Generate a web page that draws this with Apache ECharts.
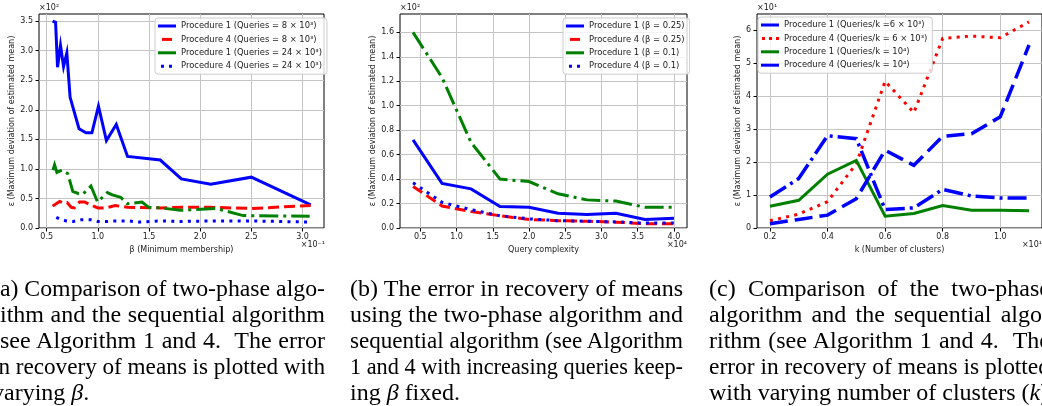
<!DOCTYPE html>
<html>
<head>
<meta charset="utf-8">
<script src="https://cdn.jsdelivr.net/npm/echarts@6/dist/echarts.min.js"></script>
<style>
html, body { margin: 0; padding: 0; background: #fff; }
#wrap { position: relative; width: 1042px; height: 406px; overflow: hidden; }
#chart { position: absolute; left: 0; top: 0; width: 1042px; height: 406px; }
.cap { position: absolute; top: 275px; width: 333px; font-family: "Liberation Serif", "Times New Roman", serif; font-size: 24px; line-height: 26px; color: #000; }
.cap div { height: 26px; text-align: justify; text-align-last: justify; }
.cap div.last { text-align: left; text-align-last: left; }
</style>
</head>
<body>
<div id="wrap">
  <div id="chart"></div>
  <div class="cap" style="left:-8px">
    <div><span>(a) Comparison of two-phase algo-</span></div>
    <div><span>rithm and the sequential algorithm</span></div>
    <div><span>(see Algorithm 1 and 4.&nbsp; The error</span></div>
    <div><span>in recovery of means is plotted with</span></div>
    <div class="last"><span>varying <i>β</i>.</span></div>
  </div>
  <div class="cap" style="left:350px">
    <div><span>(b) The error in recovery of means</span></div>
    <div><span>using the two-phase algorithm and</span></div>
    <div><span>sequential algorithm (see Algorithm</span></div>
    <div><span>1 and 4 with increasing queries keep-</span></div>
    <div class="last"><span>ing <i>β</i> fixed.</span></div>
  </div>
  <div class="cap" style="left:709px; width:341px">
    <div><span>(c) Comparison of the two-phase</span></div>
    <div><span>algorithm and the sequential algo-</span></div>
    <div><span>rithm (see Algorithm 1 and 4.&nbsp; The</span></div>
    <div><span>error in recovery of means is plotted</span></div>
    <div class="last"><span>with varying number of clusters (<i>k</i>).</span></div>
  </div>
</div>
<script>
// (a) error vs beta (x10^-1), values x10^2
const betaP1Q8 = [0.558, 0.587, 0.606, 0.635, 0.665, 0.697, 0.729, 0.816, 0.884, 0.942, 1.006, 1.084, 1.18, 1.29, 1.61, 1.816, 2.103, 2.5, 3.08]
const errP1Q8 = [3.50, 3.48, 2.72, 3.09, 2.73, 2.96, 2.21, 1.68, 1.61, 1.61, 2.06, 1.48, 1.75, 1.21, 1.15, 0.83, 0.74, 0.86, 0.39]
const betaP4Q8 = [0.558, 0.626, 0.665, 0.70, 0.74, 0.77, 0.82, 0.87, 0.92, 1.0, 1.08, 1.17, 1.29, 1.61, 1.82, 2.1, 2.5, 3.08]
const errP4Q8 = [0.37, 0.45, 0.42, 0.43, 0.35, 0.34, 0.44, 0.44, 0.40, 0.34, 0.34, 0.38, 0.35, 0.34, 0.35, 0.35, 0.33, 0.38]
const betaP1Q24 = [0.561, 0.577, 0.60, 0.652, 0.706, 0.755, 0.813, 0.852, 0.933, 0.997, 1.093, 1.142, 1.223, 1.287, 1.432, 1.497, 1.61, 1.807, 2.16, 2.42, 3.07]
const errP1Q24 = [0.98, 1.07, 0.94, 0.98, 0.92, 0.62, 0.58, 0.57, 0.71, 0.44, 0.60, 0.56, 0.52, 0.41, 0.44, 0.35, 0.34, 0.30, 0.33, 0.21, 0.20]
const betaP4Q24 = [0.594, 0.63, 0.69, 0.76, 0.84, 0.93, 1.0, 1.09, 1.18, 1.3, 1.4, 1.6, 1.82, 2.1, 2.5, 3.08]
const errP4Q24 = [0.18, 0.15, 0.12, 0.11, 0.14, 0.14, 0.11, 0.11, 0.12, 0.12, 0.10, 0.12, 0.11, 0.12, 0.12, 0.10]

// (b) error vs query complexity (x10^4), values x10^2
const queries = [0.4, 0.8, 1.2, 1.6, 2.0, 2.4, 2.8, 3.2, 3.6, 4.0]
const errP1B25 = [0.72, 0.365, 0.32, 0.175, 0.17, 0.12, 0.11, 0.12, 0.07, 0.08]
const errP4B25 = [0.34, 0.18, 0.135, 0.10, 0.07, 0.06, 0.055, 0.048, 0.035, 0.035]
const errP1B10 = [1.6, 1.23, 0.70, 0.40, 0.38, 0.28, 0.23, 0.22, 0.17, 0.17]
const errP4B10 = [0.37, 0.21, 0.15, 0.10, 0.075, 0.06, 0.055, 0.05, 0.04, 0.04]

// (c) error vs number of clusters (x10^1), values x10^1
const clusters = [0.2, 0.3, 0.4, 0.5, 0.6, 0.7, 0.8, 0.9, 1.0, 1.1]
const errP1K6 = [0.94, 1.5, 2.8, 2.71, 0.56, 0.61, 1.17, 0.97, 0.91, 0.91]
const errP4K6 = [0.22, 0.42, 0.8, 1.95, 4.45, 3.5, 5.75, 5.82, 5.77, 6.25]
const errP1K10 = [0.66, 0.84, 1.63, 2.05, 0.36, 0.44, 0.68, 0.54, 0.54, 0.52]
const errP4K10 = [0.13, 0.26, 0.39, 0.89, 2.36, 1.9, 2.78, 2.86, 3.37, 5.55]

const ticksA_x = [0.5, 1.0, 1.5, 2.0, 2.5, 3.0]
const ticksA_y = [0, 0.5, 1.0, 1.5, 2.0, 2.5, 3.0, 3.5]
const ticksB_x = [0.5, 1.0, 1.5, 2.0, 2.5, 3.0, 3.5, 4.0]
const ticksB_y = [0, 0.2, 0.4, 0.6, 0.8, 1.0, 1.2, 1.4, 1.6]
const ticksC_x = [0.2, 0.4, 0.6, 0.8, 1.0]
const ticksC_y = [0, 1, 2, 3, 4, 5, 6]

const FONT = 'DejaVu Sans'
const TXT = '#1a1a1a'
const BLUE = '#0000ff', RED = '#ff0000', GREEN = '#008000'

const ICON_FULL = 'path://M0,0h18v3h-18z'
const ICON_DASH = 'path://M0,0M18,3M4,0h10v3h-10z'
const ICON_DOT2 = 'path://M0,0M18,3M3,0h3v3h-3zM11,0h3v3h-3z'
const ICON_DOT3 = 'path://M0,0M18,3M1,0h3v3h-3zM8,0h3v3h-3zM15,0h3v3h-3z'

// caption lines: justify, or squeeze the ones that are too long
document.querySelectorAll('.cap div').forEach(d => {
    const span = d.firstElementChild
    d.style.whiteSpace = 'nowrap'
    const w = span.getBoundingClientRect().width
    const W = d.clientWidth
    if (w > W && !d.classList.contains('last')) {
        span.style.display = 'inline-block'
        span.style.transformOrigin = '0 0'
        span.style.transform = 'scaleX(' + (W / w) + ')'
        d.style.textAlign = 'left'
        d.style.textAlignLast = 'left'
    } else if (!d.classList.contains('last')) {
        d.style.whiteSpace = 'normal'
    }
})

function pairs(xs, ys) {
    return xs.map((x, i) => [x, ys[i]])
}

function line(name, xs, ys, color, dash, width, idx) {
    return {
        name: name, type: 'line', xAxisIndex: idx, yAxisIndex: idx,
        data: pairs(xs, ys), symbol: 'none', silent: true,
        lineStyle: { color: color, width: width, type: dash, cap: 'butt', join: 'miter' },
        itemStyle: { color: color },
        emphasis: { disabled: true }
    }
}

function xAxis(idx, min, max, ticks, name) {
    return {
        type: 'value', gridIndex: idx, min: min, max: max,
        name: name, nameLocation: 'middle', nameGap: 13,
        nameTextStyle: { fontSize: 8, fontFamily: FONT, color: TXT },
        axisLine: { show: false },
        axisTick: { show: true, length: 3.5, customValues: ticks, lineStyle: { color: '#000' } },
        axisLabel: { customValues: ticks, fontSize: 8, fontFamily: FONT, color: TXT, margin: 5,
            formatter: v => v.toFixed(1) },
        splitLine: { show: true, lineStyle: { color: '#c4c4c4', width: 1 } }
    }
}

function yAxis(idx, max, ticks, gap, fmt) {
    return {
        type: 'value', gridIndex: idx, min: 0, max: max,
        name: 'ε (Maximum deviation of estimated mean)', nameLocation: 'middle', nameGap: gap,
        nameTextStyle: { fontSize: 8, fontFamily: FONT, color: TXT },
        axisLine: { show: false },
        axisTick: { show: true, length: 3.5, customValues: ticks, lineStyle: { color: '#000' } },
        axisLabel: { customValues: ticks, fontSize: 8, fontFamily: FONT, color: TXT, margin: 6,
            formatter: fmt },
        splitLine: { show: true, lineStyle: { color: '#c4c4c4', width: 1 } }
    }
}

function legend(left, top, items) {
    return {
        left: left, top: top, orient: 'vertical', selectedMode: false,
        data: items.map(it => ({ name: it[0], icon: it[1] })),
        itemWidth: 18, itemHeight: 3, itemGap: 3.4,
        textStyle: { fontSize: 8.4, fontFamily: FONT, color: TXT, lineHeight: 10 },
        backgroundColor: 'rgba(255,255,255,0.8)', borderColor: '#cccccc', borderWidth: 1, borderRadius: 3,
        padding: [3, 5, 3, 3]
    }
}

function label(text, x, y, align) {
    return { type: 'text', x: x, y: y, silent: true,
        style: { text: text, fontSize: 8, fontFamily: FONT, fill: TXT, align: align, verticalAlign: 'middle' } }
}

const names = {
    a1: 'Procedure 1 (Queries = 8 × 10³)', a2: 'Procedure 4 (Queries = 8 × 10³)',
    a3: 'Procedure 1 (Queries = 24 × 10³)', a4: 'Procedure 4 (Queries = 24 × 10³)',
    b1: 'Procedure 1 (β = 0.25)', b2: 'Procedure 4 (β = 0.25)',
    b3: 'Procedure 1 (β = 0.1)', b4: 'Procedure 4 (β = 0.1)',
    c1: 'Procedure 1 (Queries/k =6 × 10³)', c2: 'Procedure 4 (Queries/k = 6 × 10³)',
    c3: 'Procedure 1 (Queries/k = 10⁴)', c4: 'Procedure 4 (Queries/k = 10⁴)'
}

const DASH = [11, 5], DASHDOT = [19, 5, 3, 5], DOT = [3, 5.3], LONGDASH = [18, 7]

const chart = echarts.init(document.getElementById('chart'))
chart.setOption({
    animation: false,
    backgroundColor: 'transparent',
    grid: [
        { left: 39, top: 14, width: 285, height: 214, show: true, borderColor: '#000', borderWidth: 1, backgroundColor: 'transparent' },
        { left: 400, top: 14, width: 287, height: 214, show: true, borderColor: '#000', borderWidth: 1, backgroundColor: 'transparent' },
        { left: 757, top: 14, width: 285, height: 214, show: true, borderColor: '#000', borderWidth: 1, backgroundColor: 'transparent' }
    ],
    xAxis: [
        xAxis(0, 0.425, 3.21, ticksA_x, 'β (Minimum membership)'),
        xAxis(1, 0.22, 4.18, ticksB_x, 'Query complexity'),
        xAxis(2, 0.155, 1.145, ticksC_x, 'k (Number of clusters)')
    ],
    yAxis: [
        yAxis(0, 3.62, ticksA_y, 19, v => v.toFixed(1)),
        yAxis(1, 1.75, ticksB_y, 15, v => v.toFixed(1)),
        yAxis(2, 6.49, ticksC_y, 8, v => String(v))
    ],
    legend: [
        legend(155, 18, [[names.a1, ICON_FULL], [names.a2, ICON_DASH], [names.a3, ICON_FULL], [names.a4, ICON_DOT2]]),
        legend(563, 18, [[names.b1, ICON_FULL], [names.b2, ICON_DASH], [names.b3, ICON_FULL], [names.b4, ICON_DOT2]]),
        legend(758, 17, [[names.c1, ICON_FULL], [names.c2, ICON_DOT3], [names.c3, ICON_FULL], [names.c4, ICON_FULL]])
    ],
    series: [
        line(names.a1, betaP1Q8, errP1Q8, BLUE, 'solid', 3, 0),
        line(names.a2, betaP4Q8, errP4Q8, RED, DASH, 3, 0),
        line(names.a3, betaP1Q24, errP1Q24, GREEN, DASHDOT, 3, 0),
        line(names.a4, betaP4Q24, errP4Q24, BLUE, DOT, 3, 0),
        line(names.b1, queries, errP1B25, BLUE, 'solid', 3, 1),
        line(names.b2, queries, errP4B25, RED, DASH, 3, 1),
        line(names.b3, queries, errP1B10, GREEN, DASHDOT, 3, 1),
        line(names.b4, queries, errP4B10, BLUE, DOT, 3, 1),
        line(names.c1, clusters, errP1K6, BLUE, DASHDOT, 3.5, 2),
        line(names.c2, clusters, errP4K6, RED, DOT, 3, 2),
        line(names.c3, clusters, errP1K10, GREEN, 'solid', 3, 2),
        line(names.c4, clusters, errP4K10, BLUE, LONGDASH, 3.5, 2)
    ],
    graphic: [
        label('×10²', 39, 8, 'left'),
        label('×10⁻¹', 325, 245, 'right'),
        label('×10²', 400, 8, 'left'),
        label('×10⁴', 687, 245, 'right'),
        label('×10¹', 757, 8, 'left'),
        label('×10¹', 1042, 245, 'right')
    ]
})
</script>
</body>
</html>
